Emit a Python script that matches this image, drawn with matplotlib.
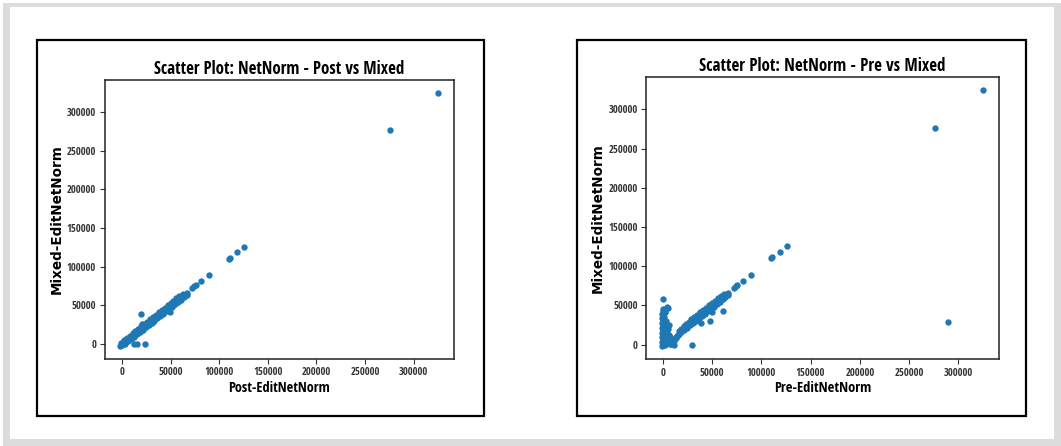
import numpy as np
import matplotlib
matplotlib.use('Agg')
import matplotlib.pyplot as plt
from matplotlib.patches import Rectangle
from matplotlib import font_manager as fm

# ---------------------------------------------------------
# data
# ---------------------------------------------------------
# records lying along the diagonal in both panels
band_mixed = [500, 2000, 3500, 5000, 6500, 8000, 9500, 11000, 12500, 14000, 15500,
              17000, 18500, 20000, 21500, 23000, 24500, 26000, 27500, 29000, 30500,
              32000, 33500, 35000, 36500, 38000, 39500, 41000, 42500, 44000, 45500,
              47000, 48500, 50000, 51500, 53000, 54500, 56000, 57500, 59000, 60500,
              62000, 63500, 65000]
band_post = [3000, -500, 6500, 2000, 9500, 5000, 12500, 8000, 15500, 11000, 18500,
             14000, 21500, 17000, 24500, 20000, 27500, 23000, 30500, 26000, 33500,
             29000, 36500, 32000, 39500, 35000, 42500, 38000, 45500, 41000, 48500,
             44000, 51500, 47000, 54500, 50000, 57500, 53000, 60500, 56000, 63500,
             59000, 66500, 62500]
band_pre = [7000, 9500, 9000, 11500, 11000, 13000, 13000, 14500, 15000, 16000, 18500,
            16000, 21500, 18500, 24500, 21000, 27500, 23500, 30500, 26500, 33500,
            29000, 36500, 32000, 39500, 35000, 42500, 38000, 45500, 41000, 48500,
            44000, 51500, 47000, 54500, 50000, 57500, 53000, 60500, 56000, 63500,
            59000, 66500, 62500]

# records with a zero pre-edit value (vertical column in the right panel)
zero_mixed = [-2500, -1000, 1500, 3000, 5500, 7000, 9000, 11500, 13500, 15000,
              17500, 19500, 21000, 23500, 25500, 27000, 29500, 31000, 33500, 35000,
              37500, 39000, 41500, 43000, 45000, 58500]
zero_post = [-1500, 0, 1000, 3500, 5000, 7500, 8500, 12000, 13000, 15500,
             17000, 20000, 20500, 24000, 25000, 27500, 29000, 31500, 33000, 35500,
             37000, 39500, 41000, 43500, 44500, 58000]
zero_pre = [-500, 1800, 0, -900, 1500, 300, -700, 1800, 0, -900, 1400, 200, -600, 1800,
            0, -800, 1500, 200, -900, 1200, 0, -700, 1600, 0, -400, 0]

# bottom of the "V" in the right panel
v_pre = [2000, 3000, 4000, 2500, 5000, 6000, 7500, 3500, 1500, 5500, 8500, 1000, 4500,
         9000, 6500, 3000, 5000, 2500]
v_mixed = [8000, 14000, 18000, 22000, 6000, 3000, 9000, 11000, 16000, 20000, 1000,
           26000, 24000, 5000, 12500, 30000, 46500, 41000]
v_post = [8500, 14500, 17500, 22500, 6500, 3500, 9500, 10500, 16500, 19500, 1500,
          26500, 24000, 5500, 12000, 30500, 46500, 41000]

# larger values and off-diagonal points
other_post = [325000, 276000, 126000, 118500, 111000, 110000, 89300, 81200, 76000,
              74500, 72500, 67000, 28500, 24000, 12000, 15500, 49000, 42500, 29600,
              27500, 47800, 25400, 19700, 20500]
other_pre = [325000, 276000, 125500, 118500, 111000, 110000, 89200, 81200, 75500,
             74000, 72000, 66000, 289000, 30000, 11000, 0, 49500, 61000, 47600,
             38900, 4200, 5900, 0, 0]
other_mixed = [325000, 276500, 126000, 118500, 111200, 110000, 89000, 81500, 76000,
               74500, 72500, 66000, 28500, 0, 0, 0, 41000, 42500, 29600, 27500,
               47800, 25400, 38600, 26000]

post = np.concatenate([band_post, zero_post, v_post, other_post])
pre = np.concatenate([band_pre, zero_pre, v_pre, other_pre])
mixed = np.concatenate([band_mixed, zero_mixed, v_mixed, other_mixed])

ticks = [0, 50000, 100000, 150000, 200000, 250000, 300000]

W, H = 1061, 446

# the source image is squeezed sideways, so prefer a narrow face if one exists
narrow = 'DejaVu Sans'
for name in ['Liberation Sans Narrow', 'DejaVu Sans Condensed', 'Noto Sans Condensed',
             'Open Sans Condensed', 'Roboto Condensed']:
    try:
        fm.findfont(fm.FontProperties(family=name), fallback_to_default=False)
        narrow = name
        break
    except ValueError:
        pass
narrow_fam = [narrow, 'DejaVu Sans']


def px_rect(x0, y0, x1, y1):
    # pixel box (top-left origin) -> figure fraction [l, b, w, h]
    return [x0 / W, (H - y1) / H, (x1 - x0) / W, (y1 - y0) / H]


fig = plt.figure(figsize=(W / 100, H / 100), dpi=100)
fig.patch.set_facecolor('white')

# light grey outer frame
fig.patches.append(Rectangle((3 / W, 0), 1, (H - 3) / H, transform=fig.transFigure,
                             facecolor='#dcdcdc', edgecolor='none', zorder=-10))
fig.patches.append(Rectangle((10 / W, 7 / H), (1054 - 10) / W, (439 - 7) / H,
                             transform=fig.transFigure, facecolor='white',
                             edgecolor='none', zorder=-9))

# black boxes around each chart
for box in [(37, 40, 484, 416), (577, 40, 1026, 416)]:
    l, b, w, h = px_rect(*box)
    fig.patches.append(Rectangle((l, b), w, h, transform=fig.transFigure,
                                 facecolor='none', edgecolor='black', linewidth=1.6,
                                 zorder=5))

# (axes box px, x data, x label, title, ylabel x px, title width px, xlabel width px)
panels = [
    ((104.5, 80, 454, 358.7), post, 'Post-EditNetNorm',
     'Scatter Plot: NetNorm - Post vs Mixed', 64, 251, 103),
    ((646, 77, 999, 359.3), pre, 'Pre-EditNetNorm',
     'Scatter Plot: NetNorm - Pre vs Mixed', 605, 246, 98),
]

fits = []
for box, xvals, xlab, title, ylab_x, title_w, xlab_w in panels:
    rect = px_rect(*box)
    ax = fig.add_axes(rect)
    ax.set_zorder(1)
    ax.scatter(xvals, mixed, s=21, color='#1f77b4', linewidths=0)
    ax.set_xticks(ticks)
    ax.set_yticks(ticks)
    ax.tick_params(length=3.5, width=0.8, color='#333333', labelsize=7,
                   labelcolor='#333333', pad=2.5)
    for lbl in ax.get_xticklabels() + ax.get_yticklabels():
        lbl.set_family(narrow_fam)
    for sp in ax.spines.values():
        sp.set_linewidth(1.1)
        sp.set_color('#222222')
    t = ax.set_title(title, fontsize=10, fontweight='bold', family=narrow_fam, pad=4)
    xl = ax.set_xlabel(xlab, fontsize=10, fontweight='bold', family=narrow_fam,
                       labelpad=2)
    yl = ax.set_ylabel('Mixed-EditNetNorm', fontsize=9.5, fontweight='bold',
                       family='DejaVu Sans')
    ax.yaxis.set_label_coords((ylab_x - box[0]) / (box[2] - box[0]), 0.5)
    fits.append((ax, t, title_w, xl, xlab_w, yl, 151))

# size the text to the widths measured on the reference
fig.canvas.draw()
r = fig.canvas.get_renderer()
for ax, t, tw, xl, xw, yl, yh in fits:
    t.set_fontsize(t.get_fontsize() * tw / t.get_window_extent(r).width)
    xl.set_fontsize(xl.get_fontsize() * xw / xl.get_window_extent(r).width)
    yl.set_fontsize(yl.get_fontsize() * yh / yl.get_window_extent(r).height)
    lab = ax.get_yticklabels()[-1]
    size = lab.get_fontsize() * 29 / lab.get_window_extent(r).width
    for lbl in ax.get_xticklabels() + ax.get_yticklabels():
        lbl.set_fontsize(size)

plt.savefig('out.png', dpi=100)
